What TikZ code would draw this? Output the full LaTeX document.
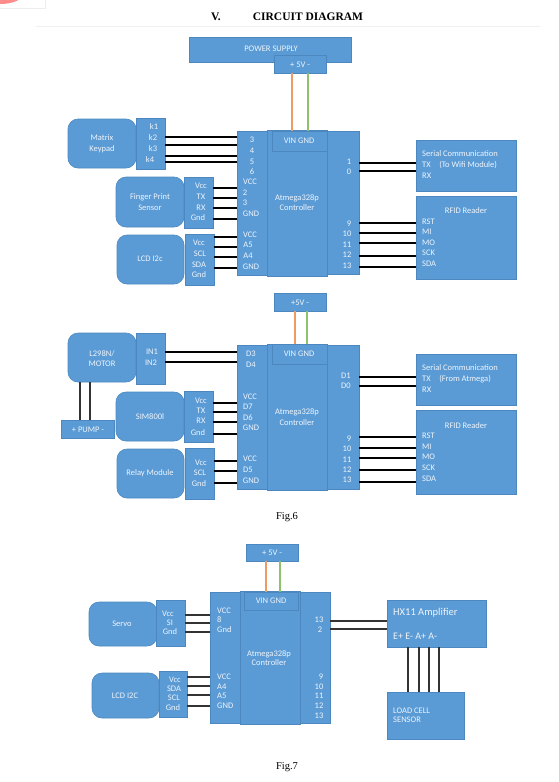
\documentclass[tikz,border=0pt]{standalone}
\usepackage{fontspec}
\setmainfont{Liberation Serif}
\newfontfamily\blockfont{Carlito}
\definecolor{blockblue}{HTML}{5B9BD5}
\definecolor{blockedge}{HTML}{4C88BF}
\definecolor{blocktext}{HTML}{EEF4FB}
\definecolor{plusline}{HTML}{EE9A63}
\definecolor{minusline}{HTML}{8FC06E}
\newcommand{\blockat}[6][block]{%
  \node[#1, minimum width={(#5-#3)*1pt}, minimum height={(#6-#4)*1pt}] (#2)
    at ({(#3+#5)/2},{(#4+#6)/2}) {};}
\newcommand{\wiresh}[4][wire]{%
  \foreach \yy in {#4} \draw[#1] (#2.east |- 0,\yy) -- (#3.west |- 0,\yy);}
\newcommand{\wiresv}[4][wire]{%
  \foreach \xx in {#4} \draw[#1] (#2.south -| \xx,0) -- (#3.north -| \xx,0);}
\begin{document}
\begin{tikzpicture}[
  x=1pt, y=-1pt,
  block/.style={draw=blockedge, fill=blockblue, line width=0.6pt, inner sep=0pt, outer sep=0pt},
  module/.style={block, rounded corners=10pt},
  lbl/.style={font=\blockfont\fontsize{8.5}{9}\selectfont, text=blocktext, inner sep=0pt},
  lblleft/.style={lbl, anchor=west},
  wire/.style={black, line width=1.2pt},
  thinwire/.style={black!80, line width=1.1pt},
  plus/.style={plusline, line width=1.3pt},
  minus/.style={minusline, line width=1.3pt},
  caption/.style={font=\fontsize{10.5}{12}\selectfont, inner sep=0pt},
  heading/.style={font=\bfseries\fontsize{11.5}{13}\selectfont, inner sep=0pt}
]
  \useasboundingbox (0,0) rectangle (558,782);
  \fill[white] (0,0) rectangle (558,782);

  \fill[red!45] (0,-5) ellipse (22 and 9);
  \coordinate (stubA) at (0,8);
  \coordinate (stubB) at (45,8);
  \coordinate (stubC) at (45,0);
  \draw[black!7, line width=0.8pt] (stubA) -- (stubB) -- (stubC);
  \coordinate (rulea) at (36,26);
  \coordinate (ruleb) at (540,26);
  \draw[black!6, line width=0.8pt] (rulea) -- (ruleb);

  \node[heading] (secno) at (216,17) {V.};
  \node[heading] (title) at (308,17) {CIRCUIT DIAGRAM};

  % first board
  \blockat{supply}{189}{37}{351}{62}
  \blockat{fiveA}{274}{55}{326}{73}
  \blockat{leftA}{237}{131}{267}{275}
  \blockat{rightA}{327}{131}{359}{274}
  \blockat{ctrlA}{267}{130}{327}{276}
  \blockat{vinA}{272}{131}{327}{151}
  \blockat[module]{keypad}{68}{119}{136}{168}
  \blockat{keypins}{136}{118}{165}{169}
  \blockat[module]{finger}{116}{177}{184}{227}
  \blockat{fingerpins}{184}{177}{213}{228}
  \blockat[module]{lcdA}{117}{235}{184}{284}
  \blockat{lcdApins}{185}{234}{214}{285}
  \blockat{serialA}{416}{140}{516}{191}
  \blockat{rfidA}{416}{196}{516}{279}

  \wiresv[plus]{fiveA}{vinA}{292}
  \wiresv[minus]{fiveA}{vinA}{308}
  \wiresh{keypins}{leftA}{137,145,156,162}
  \wiresh{fingerpins}{leftA}{188,198,208,219}
  \wiresh{lcdApins}{leftA}{237,247,257,268}
  \wiresh{rightA}{serialA}{163,171}
  \wiresh{rightA}{rfidA}{223,233,243,256,267}

  \foreach \txt/\xx/\yy [count=\i] in {POWER SUPPLY/271/49, + 5V -/300/65, Matrix/102/138, Keypad/102/149,
    Finger Print/150/197, Sensor/150/208, LCD I2c/150/259, Atmega328p/297/198, Controller/297/208,
    VIN GND/299/141, k1/154/127, k2/153/138, k3/153/149, k4/150/160, Vcc/201/186, TX/201/197, RX/201/208,
    Gnd/198/218, Vcc/199/243, SCL/200/254, SDA/199/265, Gnd/199/275, 3/252/140, 4/252/151, 5/252/162,
    6/252/172, VCC/250/182, 2/245/193, 3/245/203, GND/251/214, VCC/250/235, A5/248/245, A4/248/256,
    GND/251/267, 1/349/162, 0/349/172, 9/349/224, 10/347/234, 11/347/245, 12/347/255, 13/347/266,
    RFID Reader/466/211}
    \node[lbl] (ta\i) at (\xx,\yy) {\txt};
  \foreach \txt/\yy [count=\i] in {Serial Communication/154, TX\quad(To Wifi Module)/165, RX/176,
    RST/222, MI/232, MO/243, SCK/253, SDA/264}
    \node[lblleft] (tb\i) at (422,\yy) {\txt};

  % second board
  \blockat{fiveB}{274}{293}{326}{311}
  \blockat{leftB}{237}{345}{267}{489}
  \blockat{rightB}{327}{345}{359}{489}
  \blockat{ctrlB}{267}{344}{327}{490}
  \blockat{vinB}{272}{344}{327}{364}
  \blockat[module]{motor}{68}{333}{136}{382}
  \blockat{motorpins}{136}{333}{165}{384}
  \blockat{pump}{61}{420}{114}{438}
  \blockat[module]{sim}{116}{392}{184}{441}
  \blockat{simpins}{184}{391}{213}{442}
  \blockat[module]{relay}{117}{449}{184}{498}
  \blockat{relaypins}{185}{448}{214}{499}
  \blockat{serialB}{416}{354}{516}{405}
  \blockat{rfidB}{416}{410}{516}{494}

  \wiresv[plus]{fiveB}{vinB}{295}
  \wiresv[minus]{fiveB}{vinB}{307}
  \wiresv[thinwire]{motor}{pump}{80,90}
  \wiresh{motorpins}{leftB}{352,362}
  \wiresh{simpins}{leftB}{403,412,422,434}
  \wiresh{relaypins}{leftB}{461,471,483}
  \wiresh{rightB}{serialB}{377,386}
  \wiresh{rightB}{rfidB}{437,448,458,470,482}

  \foreach \txt/\xx/\yy [count=\i] in {+5V -/300/303, {L298N/}/102/354, MOTOR/102/364, + PUMP -/88/430,
    SIM800l/150/417, Relay Module/150/473, Atmega328p/297/412, Controller/297/423, VIN GND/299/354,
    IN1/152/352, IN2/151/363, Vcc/201/401, TX/201/411, RX/201/421, Gnd/198/433, Vcc/201/463, SCL/200/473,
    Gnd/199/484, D3/251/354, D4/251/365, VCC/250/397, D7/248/407, D6/248/418, GND/251/428, VCC/250/459,
    D5/248/470, GND/251/481, D1/346/376, D0/346/386, 9/349/439, 10/347/449, 11/347/460, 12/347/470,
    13/347/480, RFID Reader/466/426}
    \node[lbl] (tc\i) at (\xx,\yy) {\txt};
  \foreach \txt/\yy [count=\i] in {Serial Communication/368, TX\quad(From Atmega)/379, RX/390,
    RST/436, MI/447, MO/457, SCK/468, SDA/479}
    \node[lblleft] (td\i) at (422,\yy) {\txt};
  \node[caption] (figsix) at (287,517) {Fig.6};

  % third board
  \blockat{fiveC}{246}{544}{298}{561}
  \blockat{leftC}{210}{592}{241}{723}
  \blockat{rightC}{300}{592}{330}{723}
  \blockat{ctrlC}{240}{591}{300}{724}
  \blockat{vinC}{244}{592}{298}{610}
  \blockat[module]{servo}{89}{602}{157}{646}
  \blockat{servopins}{156}{600}{185}{646}
  \blockat[module]{lcdC}{92}{673}{159}{718}
  \blockat{lcdCpins}{159}{671}{187}{717}
  \blockat{amp}{387}{600}{486}{647}
  \blockat{cell}{387}{692}{464}{739}

  \wiresv[plus]{fiveC}{vinC}{266}
  \wiresv[minus]{fiveC}{vinC}{280}
  \wiresh[thinwire]{servopins}{leftC}{615,623,632}
  \wiresh[thinwire]{lcdCpins}{leftC}{677,686,695,706}
  \wiresh[thinwire]{rightC}{amp}{621,629}
  \wiresv[thinwire]{amp}{cell}{408,419,429,439}

  \foreach \txt/\xx/\yy [count=\i] in {+ 5V -/272/553, Servo/122/624, LCD I2C/125/696, Atmega328p/269/654,
    Controller/269/663, VIN GND/271/601, Vcc/168/614, SI/170/623, Gnd/170/632, Vcc/175/680, SDA/174/689,
    SCL/174/698, Gnd/173/708, 13/319/620, 2/320/630, 9/321/677, 10/319/687, 11/319/696, 12/319/706, 13/319/716}
    \node[lbl] (te\i) at (\xx,\yy) {\txt};
  \foreach \txt/\yy [count=\i] in {VCC/611, 8/620, Gnd/629.5, VCC/677, A4/687, A5/696, GND/706}
    \node[lblleft] (tf\i) at (217,\yy) {\txt};
  \foreach \txt/\yy [count=\i] in {LOAD CELL/711, SENSOR/720}
    \node[lblleft] (tg\i) at (393,\yy) {\txt};
  \node[lblleft, font=\blockfont\fontsize{10}{11}\selectfont] (amppins) at (393,636) {E+ E- A+ A-};
  \node[lblleft, font=\blockfont\fontsize{10.5}{12}\selectfont] (amptext) at (393,613) {HX11 Amplifier};
  \node[caption] (figseven) at (287,767) {Fig.7};
\end{tikzpicture}
\end{document}
